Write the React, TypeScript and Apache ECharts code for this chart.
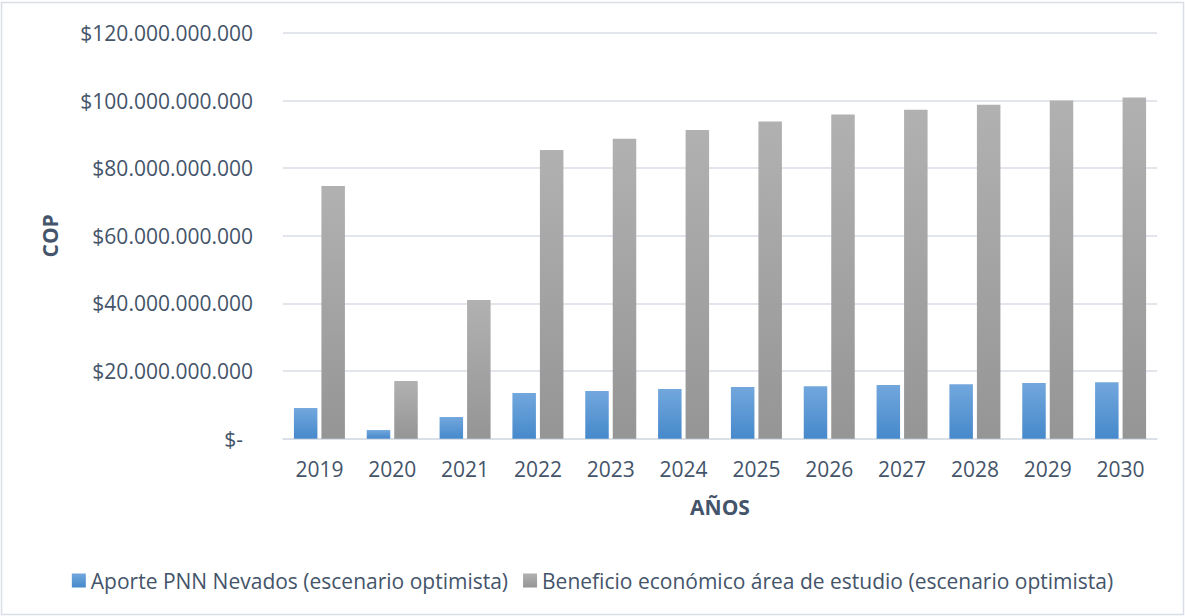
import React, { useEffect, useRef } from "react";
import * as echarts from "echarts";

const years = ["2019", "2020", "2021", "2022", "2023", "2024", "2025", "2026", "2027", "2028", "2029", "2030"];
const aportePNN = [9.07e9, 2.56e9, 6.41e9, 13.5e9, 14.1e9, 14.7e9, 15.26e9, 15.55e9, 15.85e9, 16.14e9, 16.44e9, 16.73e9];
const beneficio = [74.75e9, 17.06e9, 41.0e9, 85.4e9, 88.7e9, 91.3e9, 93.8e9, 95.9e9, 97.3e9, 98.8e9, 100.0e9, 100.9e9];
const seriesNames = [
  "Aporte PNN Nevados (escenario optimista)",
  "Beneficio económico área de estudio (escenario optimista)",
];

const TEXT = "#44546a";
const GRID = "#d9dee6";
const FONT = "'Open Sans', 'Noto Sans', sans-serif";

function fmtCOP(v: number): string {
  if (v === 0) return "{z|$-}";
  const s = Math.round(v).toString().replace(/\B(?=(\d{3})+(?!\d))/g, ".");
  return "$" + s;
}

export default function App() {
  const ref = useRef<HTMLDivElement>(null);
  useEffect(() => {
    document.body.style.margin = "0";
    const chart = echarts.init(ref.current!, null, { renderer: "svg" });
    const blue = new echarts.graphic.LinearGradient(0, 0, 0, 1, [
      { offset: 0, color: "#72a7dd" },
      { offset: 1, color: "#4689cb" },
    ]);
    const gray = new echarts.graphic.LinearGradient(0, 0, 0, 1, [
      { offset: 0, color: "#b1b1b1" },
      { offset: 1, color: "#959595" },
    ]);
    chart.setOption({
      animation: false,
      backgroundColor: "#ffffff",
      textStyle: { fontFamily: FONT },
      graphic: [
        {
          type: "rect",
          shape: { x: 1.5, y: 2.5, width: 1182, height: 612 },
          style: { fill: "none", stroke: GRID, lineWidth: 1.5 },
          silent: true,
        },
      ],
      grid: { left: 283, right: 28, top: 33, bottom: 177.3, containLabel: false, outerBoundsMode: "none" },
      legend: {
        top: 565,
        left: "center",
        itemWidth: 14,
        itemHeight: 14,
        itemGap: 15,
        icon: "rect",
        textStyle: { color: TEXT, fontSize: 21, fontFamily: FONT },
        data: [
          { name: seriesNames[0], itemStyle: { color: blue } },
          { name: seriesNames[1], itemStyle: { color: gray } },
        ],
      },
      xAxis: {
        type: "category",
        data: years,
        name: "AÑOS",
        nameLocation: "middle",
        nameGap: 58,
        nameTextStyle: { color: TEXT, fontSize: 21, fontWeight: "bold", fontFamily: FONT },
        axisLine: { show: true, lineStyle: { color: GRID, width: 1.5 } },
        axisTick: { show: false },
        axisLabel: { color: TEXT, fontSize: 21, margin: 20, fontFamily: FONT },
      },
      yAxis: {
        type: "value",
        min: 0,
        max: 120e9,
        interval: 20e9,
        name: "COP",
        nameLocation: "middle",
        nameGap: 223,
        nameRotate: 90,
        nameTextStyle: { color: TEXT, fontSize: 21, fontWeight: "bold", fontFamily: FONT },
        axisLine: { show: false },
        axisTick: { show: false },
        splitLine: { lineStyle: { color: GRID, width: 1.5 } },
        axisLabel: {
          color: TEXT,
          fontSize: 21,
          margin: 30,
          fontFamily: FONT,
          formatter: fmtCOP,
          rich: { z: { color: TEXT, fontSize: 21, fontFamily: FONT, padding: [0, 10, 0, 0] } },
        },
      },
      series: [
        {
          name: seriesNames[0],
          type: "bar",
          data: aportePNN,
          barWidth: 23.5,
          barGap: "17%",
          itemStyle: { color: blue },
        },
        {
          name: seriesNames[1],
          type: "bar",
          data: beneficio,
          barWidth: 23.5,
          barGap: "17%",
          itemStyle: { color: gray },
        },
      ],
    });
    return () => chart.dispose();
  }, []);
  return <div ref={ref} style={{ width: 1185, height: 616, position: "fixed", left: 0, top: 0 }} />;
}
